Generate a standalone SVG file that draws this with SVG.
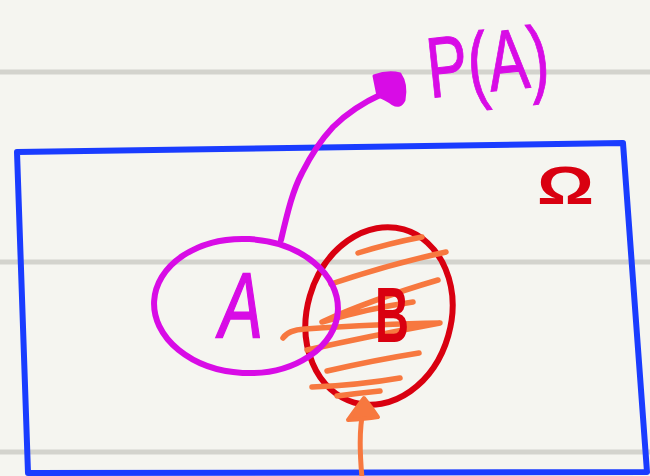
<svg xmlns="http://www.w3.org/2000/svg" width="650" height="476" viewBox="0 0 650 476">
  <style>
    .rule { stroke: #d3d3cd; stroke-width: 5; }
    .pen { fill: none; stroke-linecap: round; stroke-linejoin: round; }
    .magenta { stroke: #d80ce6; }
    .red { stroke: #d90010; }
    .blue { stroke: #1a3cff; }
    .orange { stroke: #f7783f; }
    .label { font-family: "Liberation Sans", Arial, sans-serif; }
  </style>

  <!-- paper -->
  <rect x="0" y="0" width="650" height="476" fill="#f5f5f0"/>
  <g id="ruled-lines">
    <line class="rule" x1="0" y1="72" x2="650" y2="72"/>
    <line class="rule" x1="0" y1="262" x2="650" y2="262"/>
    <line class="rule" x1="0" y1="452" x2="650" y2="452"/>
  </g>

  <!-- sample space -->
  <g id="omega">
    <path class="pen blue" stroke-width="6" d="M17,152 L623,143 L647,472 L28,473 Z"/>
    <text class="label" x="537" y="204" font-size="54" font-weight="bold" fill="#d90010" textLength="57" lengthAdjust="spacingAndGlyphs">Ω</text>
  </g>

  <!-- event B with hatching -->
  <g id="set-b">
    <ellipse class="pen red" stroke-width="6" cx="379" cy="316" rx="72" ry="90" transform="rotate(16 379 316)"/>
    <g class="pen orange" stroke-width="5.5">
      <path d="M358,253 Q390,243 422,237"/>
      <path d="M331,284 Q390,264 446,252"/>
      <path d="M438,280 Q370,300 322,322 Q370,308 413,302"/>
      <path d="M283,338 Q288,330 305,329 Q380,324 440,323 Q370,336 307,350"/>
      <path d="M327,371 Q375,360 419,353"/>
      <path d="M312,387 Q360,385 400,378"/>
      <path d="M337,396 Q360,393 380,391"/>
    </g>
    <text class="label" x="375" y="342" font-size="78" font-weight="bold" fill="#d90010" textLength="34" lengthAdjust="spacingAndGlyphs">B</text>
  </g>

  <!-- event A -->
  <g id="set-a">
    <ellipse class="pen magenta" stroke-width="6" cx="246" cy="306" rx="92" ry="67" transform="rotate(3 246 306)"/>
    <text class="label" x="219" y="338" font-size="92" font-style="italic" fill="#d80ce6" stroke="#d80ce6" stroke-width="1.5" textLength="44" lengthAdjust="spacingAndGlyphs">A</text>
  </g>

  <!-- probability label -->
  <g id="label-pa">
    <text class="label" x="430" y="98" font-size="86" fill="#d80ce6" stroke="#d80ce6" stroke-width="1" textLength="122" lengthAdjust="spacingAndGlyphs" transform="rotate(-6 430 98)">P(A)</text>
  </g>

  <!-- connectors -->
  <g id="connectors">
    <path class="pen magenta" stroke-width="6" d="M281,240 C288,210 293,190 302,173 C310,157 318,143 333,127 C345,115 360,104 382,94"/>
    <path d="M374,76 Q388,71 400,74 Q407,84 404,100 Q400,108 393,104 Q385,98 378,96 Z" fill="#d80ce6" stroke="#d80ce6" stroke-width="3" stroke-linejoin="round"/>
    <path class="pen orange" stroke-width="5" d="M362,478 Q359,445 361,425 Q362,414 364,405"/>
    <path d="M364,398 Q372,408 378,417 Q365,419 348,420 Q355,410 364,398 Z" fill="#f7783f" stroke="#f7783f" stroke-width="4" stroke-linejoin="round"/>
  </g>
</svg>
